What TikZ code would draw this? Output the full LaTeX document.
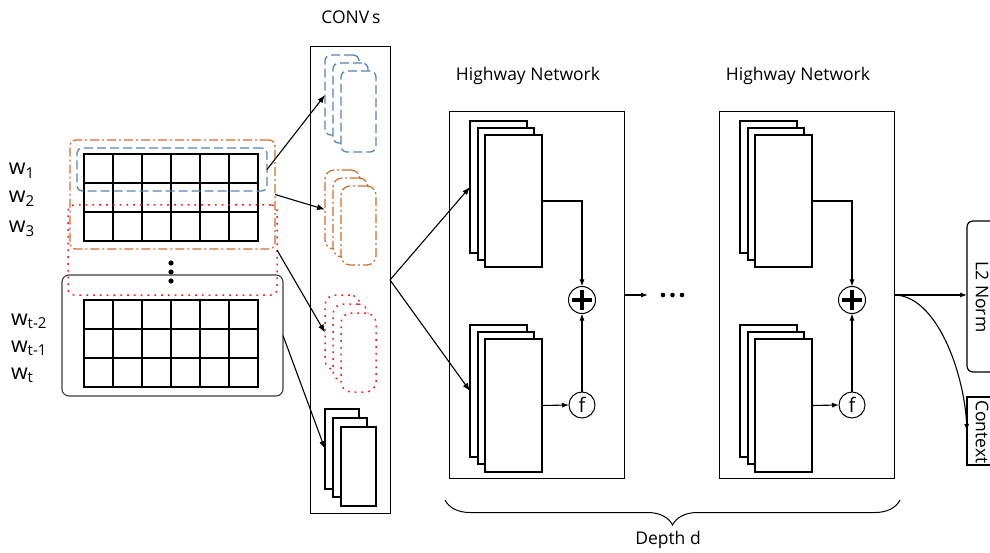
\documentclass[tikz,border=0pt]{standalone}
\usepackage{fontspec}
\setmainfont{Open Sans}
\usetikzlibrary{fit,arrows.meta,decorations.pathreplacing,calc}
\definecolor{cblue}{RGB}{88,132,176}
\definecolor{corange}{RGB}{205,112,50}
\definecolor{cred}{RGB}{235,35,35}
\definecolor{cgray}{RGB}{60,60,60}
\begin{document}
\begin{tikzpicture}[x=1pt,y=-1pt,
  every node/.style={inner sep=0pt,outer sep=0pt},
  lbl/.style={font=\fontsize{17.5}{19}\selectfont},
  wl/.style={font=\fontsize{21.5}{22}\selectfont,anchor=base west},
  gridbox/.style={draw,line width=1.8pt,fit={#1}},
  gridline/.style={line width=1.8pt},
  bluebox/.style={draw=cblue,line width=1.3pt,dash pattern=on 9pt off 4pt,rounded corners=5pt,fit={#1}},
  orangebox/.style={draw=corange,line width=1.3pt,dash pattern=on 9pt off 3pt on 2pt off 3pt,rounded corners=6pt,fit={#1}},
  redbox/.style={draw=cred,line width=1.5pt,dash pattern=on 1.8pt off 5pt,rounded corners=6pt,fit={#1}},
  grayrbox/.style={draw=cgray,line width=1.1pt,rounded corners=7pt,fit={#1}},
  cvblue/.style={bluebox={#1},fill=white,rounded corners=6pt},
  cvorange/.style={orangebox={#1},fill=white,rounded corners=9pt},
  cvred/.style={redbox={#1},fill=white,rounded corners=10pt},
  cvblack/.style={draw,line width=1.6pt,fill=white,fit={#1}},
  plainbox/.style={draw,line width=1pt,fit={#1}},
  stackrect/.style={draw,line width=1.2pt,fill=white,fit={#1}},
  arr/.style={line width=1.1pt,-{Latex[length=8pt,width=6pt]}},
  harr/.style={line width=1.1pt,-{Latex[length=7pt,width=5pt]}},
  circ/.style={circle,draw,line width=1pt,fill=white,minimum size=#1},
]
\useasboundingbox (0,0) rectangle (990,553);

% ---------- input matrix ----------
\node[gridbox={(84,154) (258,241)}] (g1) {};
\foreach \i in {1,...,5}
  \draw[gridline] ($(g1.north west)!\i/6!(g1.north east)$) -- ($(g1.south west)!\i/6!(g1.south east)$);
\foreach \j in {1,2}
  \draw[gridline] ($(g1.north west)!\j/3!(g1.south west)$) -- ($(g1.north east)!\j/3!(g1.south east)$);
\node[gridbox={(84,300) (258,387)}] (g2) {};
\foreach \i in {1,...,5}
  \draw[gridline] ($(g2.north west)!\i/6!(g2.north east)$) -- ($(g2.south west)!\i/6!(g2.south east)$);
\foreach \j in {1,2}
  \draw[gridline] ($(g2.north west)!\j/3!(g2.south west)$) -- ($(g2.north east)!\j/3!(g2.south east)$);

\node[wl] (w1) at (9,175) {w\textsubscript{1}};
\node[wl] (w2) at (9,203) {w\textsubscript{2}};
\node[wl] (w3) at (9,233) {w\textsubscript{3}};
\node[wl] (wt2) at (11,325) {w\textsubscript{t-2}};
\node[wl] (wt1) at (11,352) {w\textsubscript{t-1}};
\node[wl] (wt) at (11,379) {w\textsubscript{t}};

\foreach \yy [count=\n] in {263,272,281}
  \fill (171,\yy) circle (2.6pt) coordinate (vd\n);

\node[bluebox={(77,148) (267,191)}] (wb) {};
\node[orangebox={(70,140) (275,249)}] (wo) {};
\node[redbox={(68,205) (277,295)}] (wr) {};
\node[grayrbox={(62,275) (283,396)}] (wk) {};

% ---------- CONVs ----------
\node[lbl] (convt) at (351,17) {CONV\,s};
\node[plainbox={(310,47) (390,513)}] (conv) {};

\node[cvblue={(325,55) (359,135)}] (cb1) {};
\node[cvblue={(333,63) (368,143)}] (cb2) {};
\node[cvblue={(341,71) (376,152)}] (cb3) {};

\node[cvorange={(325,170) (360,249)}] (co1) {};
\node[cvorange={(333,178) (368,257)}] (co2) {};
\node[cvorange={(341,186) (376,265)}] (co3) {};

\node[cvred={(325,295) (360,370)}] (cr1) {};
\node[cvred={(333,304) (368,381)}] (cr2) {};
\node[cvred={(341,313) (376,392)}] (cr3) {};

\node[cvblack={(325,409) (359,489)}] (ck1) {};
\node[cvblack={(333,418) (367,497)}] (ck2) {};
\node[cvblack={(341,427) (376,506)}] (ck3) {};

\draw[arr] (wb.east) -- (cb1.west);
\draw[arr] (wo.east) -- (co1.west);
\draw[arr] (wr.east) -- (cr1.west);
\draw[arr] (wk.east) -- (ck1.west);

% ---------- Highway networks ----------
\coordinate (fan) at (390,280);
\foreach \k/\s in {1/0,2/270}{
\begin{scope}[xshift=\s pt]
  \node[lbl] (hwt\k) at (528,76) {Highway Network};
  \node[plainbox={(449,112) (624,478)}] (hb\k) {};
  \node[stackrect={(470,121) (527,253)}] (ua\k) {};
  \node[stackrect={(478,128) (534,260)}] (ub\k) {};
  \node[stackrect={(485,135) (542,267)}] (uc\k) {};
  \node[stackrect={(470,325) (527,457)}] (la\k) {};
  \node[stackrect={(478,332) (534,464)}] (lb\k) {};
  \node[stackrect={(485,339) (542,472)}] (lc\k) {};
  \node[circ=27pt] (pl\k) at (582,300) {};
  \draw[line width=3.4pt] ($(pl\k.center)+(-10,0)$) -- ($(pl\k.center)+(10,0)$);
  \draw[line width=3.4pt] ($(pl\k.center)+(0,-10)$) -- ($(pl\k.center)+(0,10)$);
  \node[circ=26pt,font=\fontsize{20}{20}\selectfont] (f\k) at (582,405) {f};
  \draw[harr] (uc\k.east) -| (pl\k.north);
  \draw[harr] (lc\k.east) -- (f\k.west);
  \draw[harr] (f\k.north) -- (pl\k.south);
\end{scope}
}
\draw[arr] (fan) -- (ua1.west);
\draw[arr] (fan) -- (la1.west);

\coordinate (dstart) at (648,295);
\draw[harr] (hb1.east) -- (dstart);
\foreach \xx [count=\n] in {663,672.5,682}
  \fill (\xx,295) circle (2.3pt) coordinate (hd\n);

% ---------- outputs ----------
\begin{scope}
\clip (0,0) rectangle (990,553);
\node[draw,line width=1.2pt,rounded corners=6pt,fit={(967,221) (1010,372)}] (l2) {};
\node[draw,line width=1.2pt,fit={(967,397) (1010,465)}] (ctx) {};
\end{scope}
\node[lbl,rotate=-90] (l2t) at (982,297) {L2 Norm};
\node[lbl,rotate=-90] (ctxt) at (982,432) {Context};
\draw[harr] (hb2.east) -- (hb2.east -| l2.west);
\draw[harr] (hb2.east) .. controls +(42,0) and +(-3,-60) .. (ctx.west);

% ---------- brace ----------
\coordinate (bl) at (445,500);
\coordinate (br) at (900,500);
\draw[line width=1pt,decorate,decoration={brace,amplitude=25pt,mirror}] (bl) -- (br);
\node[lbl] (depth) at (668,540) {Depth d};
\end{tikzpicture}
\end{document}
